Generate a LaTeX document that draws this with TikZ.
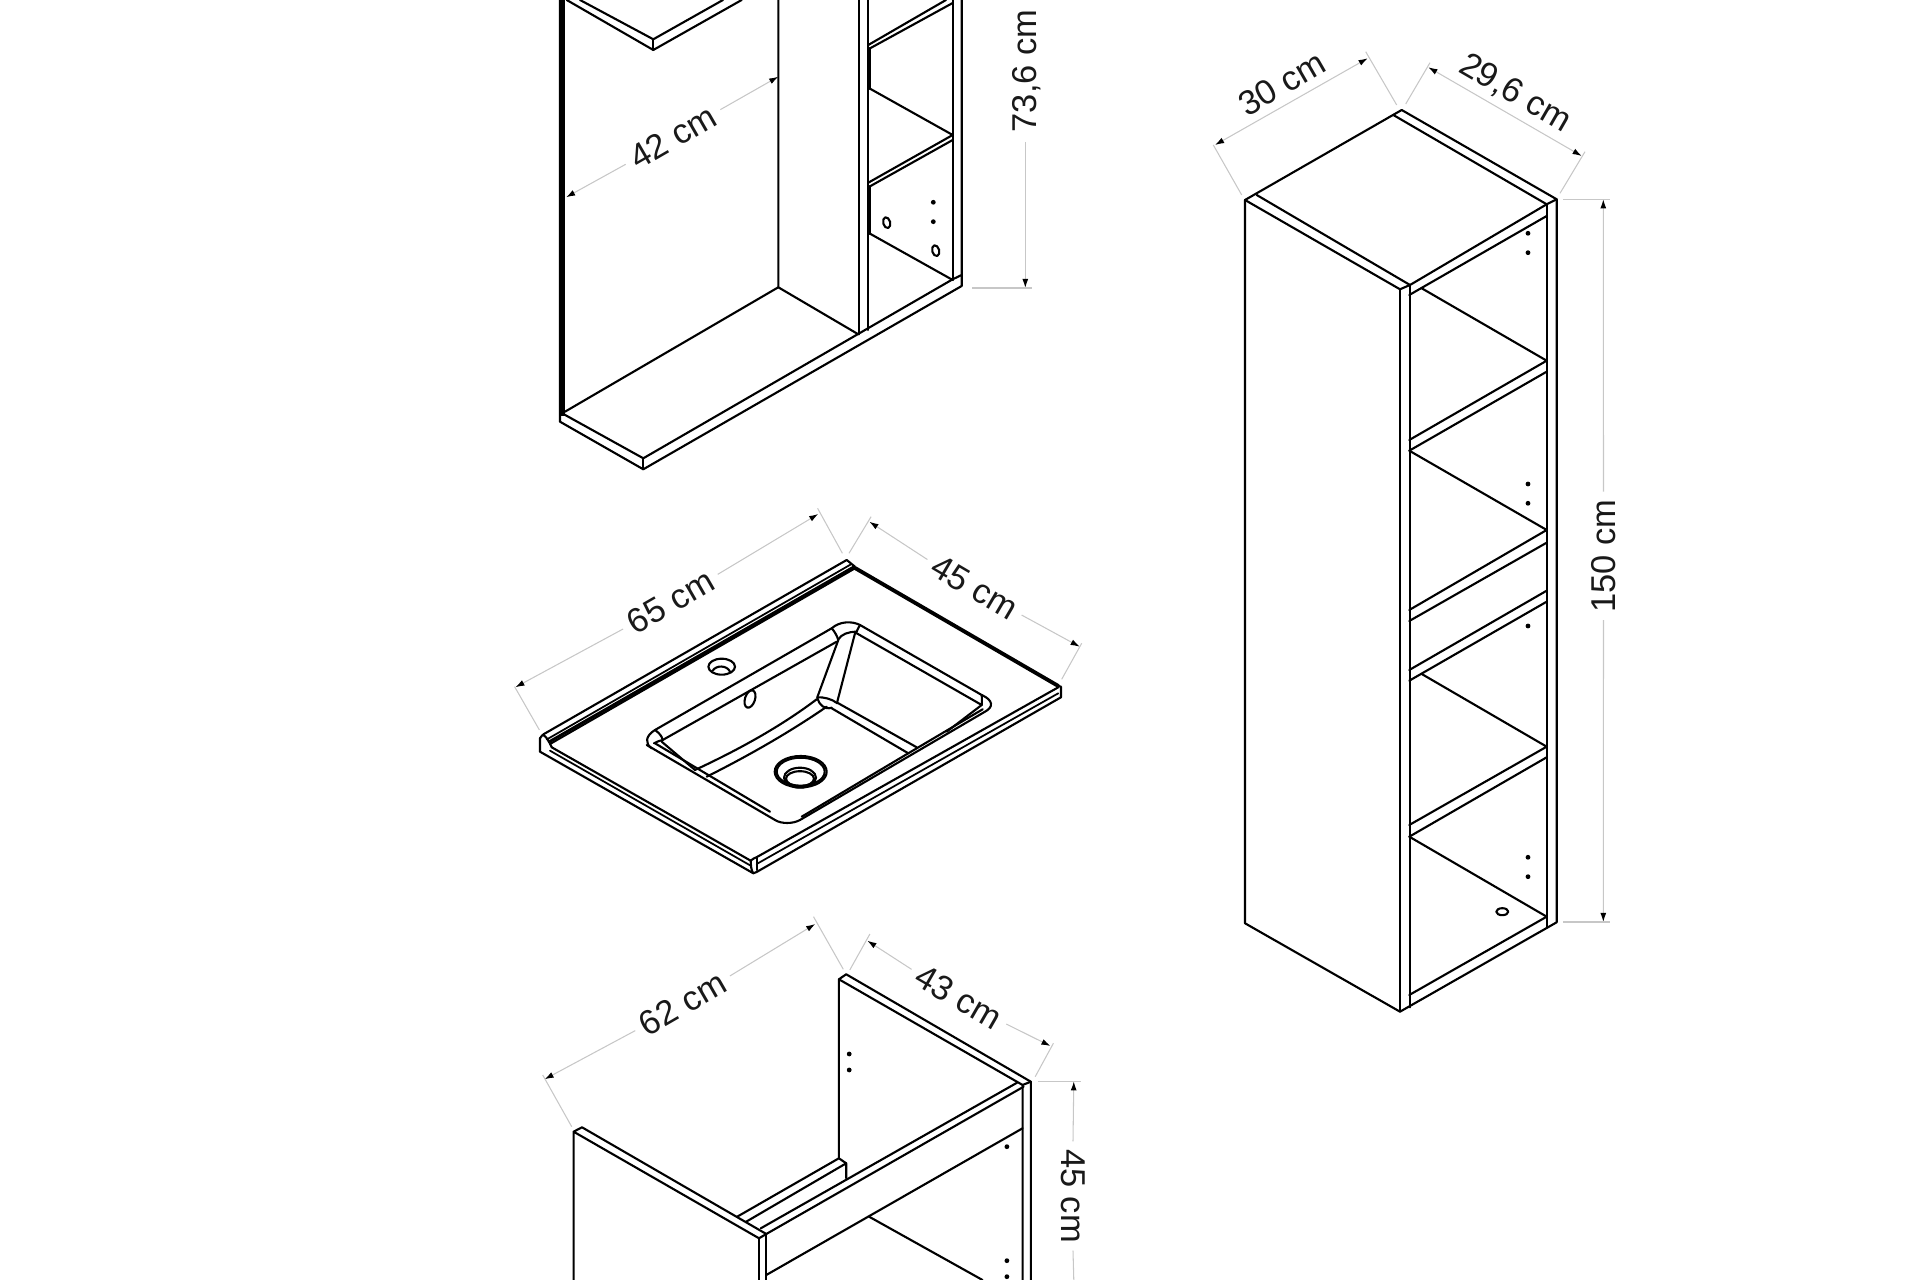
\documentclass[tikz,border=0pt]{standalone}
\usepackage{fontspec}
\setmainfont{Liberation Sans}
\usetikzlibrary{arrows.meta}
\tikzset{
  part/.style={line width=0.6pt, black, line join=round, line cap=round},
  thin part/.style={line width=0.5pt, black, line join=round, line cap=round},
  heavy/.style={line width=1.1pt, black, line cap=round},
  dimline/.style={line width=0.3pt, black!22, arrows={-Latex[black, length=2.6pt, width=1.7pt]}},
  dimboth/.style={line width=0.3pt, black!22, arrows={Latex[black, length=2.6pt, width=1.7pt]-Latex[black, length=2.6pt, width=1.7pt]}},
  extline/.style={line width=0.3pt, black!22},
  dimtext/.style={font=\fontsize{9.8pt}{11pt}\selectfont, text=black!90, inner sep=2pt},
  hole/.style={fill=black, draw=none}
}
\begin{document}
\begin{tikzpicture}[x=0.01cm, y=-0.01cm]
\useasboundingbox (0,0) rectangle (1920,1280);
\clip (0,0) rectangle (1920,1280);

\fill[black] (560,0) rectangle (565,416);
\draw[part] (560,0) -- (560,421.7) -- (643.3,469.3) -- (961.7,286) -- (961.7,0);
\draw[part] (561,412.7) -- (643.3,458.3) -- (952.7,279.3);
\draw[part] (643.3,458.3) -- (643.3,469.3);
\draw[part] (952.7,279.3) -- (961.7,275);
\draw[part] (566.7,0) -- (653.3,50) -- (741.7,0);
\draw[part] (580,0) -- (653.3,39.3) -- (723,0);
\draw[part] (653.3,39.3) -- (653.3,50);
\draw[part] (778.3,0) -- (778.3,287.3) -- (858.3,334.3);
\draw[part] (778.3,287.3) -- (565,411.7);
\draw[part] (859,0) -- (859,334.3);
\draw[part] (868.3,0) -- (868.3,330);
\draw[part] (952.7,0) -- (952.7,280);
\draw[part] (868.3,45) -- (946,0);
\draw[part] (868.3,49.3) -- (952.7,3);
\draw[part] (869.3,88.3) -- (952.7,135) -- (868.3,182.7);
\draw[part] (868.3,187.3) -- (952.7,140);
\draw[part] (869.3,233.3) -- (952.7,280);
\draw[heavy] (869,49) -- (869,88);
\draw[heavy] (869,187) -- (869,233);
\fill[hole] (933.3,202.3) circle [radius=2.4];
\fill[hole] (933.3,221.7) circle [radius=2.4];
\draw[part] (886.7,222.7) ellipse [x radius=3.5, y radius=5.5, rotate=15];
\draw[part] (935.7,250.7) ellipse [x radius=3.5, y radius=5.5, rotate=15];

\node[dimtext, rotate=30] (depthmirror) at (673,137) {42 cm};
\coordinate (depthmirrorA) at (566,197.3);
\coordinate (depthmirrorB) at (778.3,76.7);
\draw[dimline] (depthmirror.west) -- (depthmirrorA);
\draw[dimline] (depthmirror.east) -- (depthmirrorB);
\node[dimtext, rotate=90] (heightmirror) at (1027,71) {73,6 cm};
\coordinate (heightmirrorA) at (1025.3,288);
\coordinate (heightmirrorT) at (1025.3,142);
\draw[dimline] (heightmirrorT) -- (heightmirrorA);
\draw[extline] (972,288) -- (1031.7,288);

\draw[part] (540,738.3) .. controls (541,736) and (543,735) .. (544,734) -- (846.7,560) -- (855,566.7);
\draw[thin part] (546.7,739.5) -- (850.7,564.5);
\draw[thin part] (548.3,741.7) -- (853.5,566.5);
\draw[thin part] (549,742.5) -- (854.5,567.5);
\draw[part] (550,744) -- (855,568.3);
\draw[part] (543,735) .. controls (546,736) and (549,741) .. (551.7,747.3);
\draw[heavy] (855,568) -- (1058.3,686);
\draw[part] (540,738.3) -- (540,751.7) -- (753.3,873.3);
\draw[part] (551.7,747.3) -- (750.7,860.7) .. controls (751,866) and (751,870) .. (753.3,873.3);
\draw[thin part] (550,750.7) -- (750.7,865.7);
\draw[part] (750.7,860.7) .. controls (752,859) and (755,858) .. (757,857) -- (1058.3,687.3);
\draw[part] (756.7,858) -- (756.7,870);
\draw[thin part] (756.7,864) -- (1058.3,693.3);
\draw[part] (753.3,873.3) -- (756.7,872) -- (1061,697.3) -- (1061,686.7) -- (1058.3,686);

\draw[part] (831.7,628.3) -- (655,730) .. controls (645,736) and (645,744) .. (651.7,748.3);
\draw[part] (831.7,628.3) .. controls (840,621) and (852,621) .. (860,625) -- (981.7,695)
  .. controls (993,700) and (994,707) .. (985,711.7) -- (800,820)
  .. controls (793,824) and (781,824) .. (775,820) -- (646.7,745);
\draw[part] (655,743.3) -- (770,811.7);
\draw[part] (836.7,641.7) -- (662.7,740);
\draw[part] (655,730) .. controls (659,733) and (662,736) .. (662.7,740) .. controls (659,741) and (656,742) .. (654,743.3);
\draw[part] (661.7,741.7) -- (695,770);
\draw[part] (831.7,628.3) .. controls (835,632) and (837,636) .. (838.3,640);
\draw[part] (860,625) .. controls (858,628) and (857,631) .. (856,633.3);
\draw[part] (838.3,639.3) .. controls (842,634) and (848,632) .. (856,631.7);
\draw[part] (838.3,640) -- (817.3,697.3);
\draw[part] (855,633.3) -- (837.3,701.7);
\draw[part] (817.3,697.3) .. controls (824,697) and (832,699) .. (837.3,703.3);
\draw[part] (817.3,698) .. controls (819,705) and (825,710) .. (831.7,707.7);
\draw[part] (816.7,699.3) .. controls (780,727) and (738,750) .. (695,770);
\draw[part] (826.7,706.7) .. controls (790,732) and (748,756) .. (706.7,776.7);
\draw[part] (837.3,702.7) -- (916.7,747.3);
\draw[part] (831.7,708.3) -- (908.3,753.3);
\draw[part] (856.7,633.3) -- (981.7,705);
\draw[part] (981.7,695) .. controls (982,699) and (982,702) .. (981.7,705) -- (946.7,731.7);
\draw[part] (982.7,709.3) -- (908.3,753.3) -- (801.7,816.7);

\draw[part] (800.7,771.7) ellipse [x radius=26, y radius=15.7];
\draw[part] (800.7,771.7) ellipse [x radius=24, y radius=14];
\draw[part] (800,777.7) ellipse [x radius=16, y radius=10];
\draw[part] (800,778.7) ellipse [x radius=14, y radius=7.5];
\draw[part] (721.7,666.7) ellipse [x radius=13.3, y radius=8];
\draw[part] (712.7,670.7) .. controls (716,665) and (727,665) .. (730,671.7);
\draw[part] (750,699) ellipse [x radius=5, y radius=9, rotate=-18];

\node[dimtext, rotate=30] (widthtop) at (670.4,601.7) {65 cm};
\coordinate (widthtopA) at (515.3,687.3);
\coordinate (widthtopB) at (818.3,514);
\draw[dimline] (widthtop.west) -- (widthtopA);
\draw[dimline] (widthtop.east) -- (widthtopB);
\draw[extline] (514.6,686.7) -- (539.4,730);
\draw[extline] (817.6,508.3) -- (842.4,553.3);
\node[dimtext, rotate=-30.5] (depthtop) at (974.5,587.3) {45 cm};
\coordinate (depthtopA) at (869.3,521.7);
\coordinate (depthtopB) at (1079.7,646.7);
\draw[dimline] (depthtop.west) -- (depthtopA);
\draw[dimline] (depthtop.east) -- (depthtopB);
\draw[extline] (849,553.3) -- (871.1,516.7);
\draw[extline] (1061.7,679.3) -- (1081.7,643.3);

\draw[part] (573.6,1280) -- (573.6,1131.7) -- (582,1127.3) -- (766.3,1234) -- (759,1238.3) -- (573.6,1131.7);
\draw[part] (759,1238.3) -- (759,1280);
\draw[part] (766.3,1234) -- (766.3,1280);
\draw[part] (838.9,1158.3) -- (838.9,979.3) -- (846.2,974.3) -- (1030.8,1081.7) -- (1030.8,1280);
\draw[part] (838.9,979.3) -- (1022.6,1085) -- (1022.6,1280);
\draw[part] (1030.8,1081.7) -- (1022.6,1085);
\draw[part] (760.8,1228.3) -- (1017.1,1082.7);
\draw[part] (766.3,1234) -- (1023.6,1086.7);
\draw[part] (766.3,1275) -- (1022.6,1128.3);
\draw[part] (737.2,1216.7) -- (838.9,1158.3) -- (846.2,1163.3) -- (846.2,1178.3);
\draw[part] (746.2,1221.7) -- (846.2,1163.3);
\draw[part] (869.1,1216.7) -- (982.5,1280);
\fill[hole] (849.2,1054) circle [radius=2.4];
\fill[hole] (849.2,1070) circle [radius=2.4];
\fill[hole] (1006.9,1146.7) circle [radius=2.4];
\fill[hole] (1006.9,1260.7) circle [radius=2.4];
\fill[hole] (1006.9,1276.7) circle [radius=2.4];

\node[dimtext, rotate=30] (widthbase) at (682.6,1003.3) {62 cm};
\coordinate (widthbaseA) at (544.5,1079.3);
\coordinate (widthbaseB) at (815.3,924);
\draw[dimline] (widthbase.west) -- (widthbaseA);
\draw[dimline] (widthbase.east) -- (widthbaseB);
\draw[extline] (542.7,1075) -- (571.7,1126.7);
\draw[extline] (813.5,916.7) -- (843.3,969.3);
\node[dimtext, rotate=-30] (depthbase) at (958.9,996.7) {43 cm};
\coordinate (depthbaseA) at (867.3,940.7);
\coordinate (depthbaseB) at (1050.5,1046);
\draw[dimline] (depthbase.west) -- (depthbaseA);
\draw[dimline] (depthbase.east) -- (depthbaseB);
\draw[extline] (849.8,970) -- (869.9,934);
\draw[extline] (1035.2,1076.7) -- (1053.4,1043.3);
\node[dimtext, rotate=-90] (heightbase) at (1073,1196) {45 cm};
\coordinate (heightbaseA) at (1073.8,1081.3);
\coordinate (heightbaseB) at (1073.8,1280);
\draw[dimline] (heightbase.west) -- (heightbaseA);
\draw[extline] (heightbase.east) -- (heightbaseB);
\draw[extline] (1037.8,1081.3) -- (1080.7,1081.3);

\draw[part] (1245,923.3) -- (1245,200) -- (1401.7,110) -- (1556.7,199.3) -- (1556.7,922.3) -- (1400,1011.7) -- cycle;
\draw[part] (1245,200) -- (1400,289.3) -- (1410,285) -- (1546.7,204.3) -- (1556.7,199.3);
\draw[part] (1256.7,195) -- (1410,285);
\draw[part] (1393.3,115) -- (1546.7,204.3);
\draw[part] (1409.3,295) -- (1546.7,216);
\draw[part] (1400,289.3) -- (1400,1011.7);
\draw[part] (1410,285) -- (1410,1007.3);
\draw[part] (1547.3,204) -- (1547.3,927.3);
\draw[part] (1409.3,995) -- (1546.7,916.7);
\draw[part] (1421.7,288.3) -- (1546.7,360.7) -- (1409.3,440);
\draw[part] (1409.3,450.7) -- (1546.7,371.7);
\draw[part] (1409.3,450.7) -- (1546.7,530) -- (1409.3,610);
\draw[part] (1409.3,621) -- (1546.7,542.7);
\draw[part] (1409.3,670) -- (1546.7,590.7);
\draw[part] (1409.3,680.7) -- (1546.7,601.7);
\draw[part] (1421.7,674) -- (1546.7,746.7) -- (1409.3,825);
\draw[part] (1409.3,836.7) -- (1546.7,757.3);
\draw[part] (1409.3,836.7) -- (1546.7,916.7);
\foreach \doty in {233.3,252.7,484,503.3,626,857.3,876.7}
  \fill[hole] (1528,\doty) circle [radius=2.4];
\draw[part] (1502.3,911.7) ellipse [x radius=6, y radius=3.5];

\node[dimtext, rotate=30] (widthtall) at (1281.7,83.3) {30 cm};
\coordinate (widthtallA) at (1215,145);
\coordinate (widthtallB) at (1367.7,58.3);
\draw[dimboth] (widthtallA) -- (widthtallB);
\draw[extline] (1213.3,145) -- (1241.7,195);
\draw[extline] (1365.7,51.7) -- (1396.7,105);
\node[dimtext, rotate=-30] (depthtall) at (1515,93.3) {29,6 cm};
\coordinate (depthtallA) at (1428.3,67.3);
\coordinate (depthtallB) at (1581.7,156);
\draw[dimboth] (depthtallA) -- (depthtallB);
\draw[extline] (1405.7,104) -- (1430,62.7);
\draw[extline] (1560,193.3) -- (1585,151.7);
\node[dimtext, rotate=90] (heighttall) at (1603.5,556) {150 cm};
\coordinate (heighttallA) at (1603.3,922);
\coordinate (heighttallB) at (1603.3,199.3);
\draw[dimline] (heighttall.west) -- (heighttallA);
\draw[dimline] (heighttall.east) -- (heighttallB);
\draw[extline] (1563.3,199.3) -- (1610,199.3);
\draw[extline] (1563.3,922) -- (1610,922);
\end{tikzpicture}
\end{document}
